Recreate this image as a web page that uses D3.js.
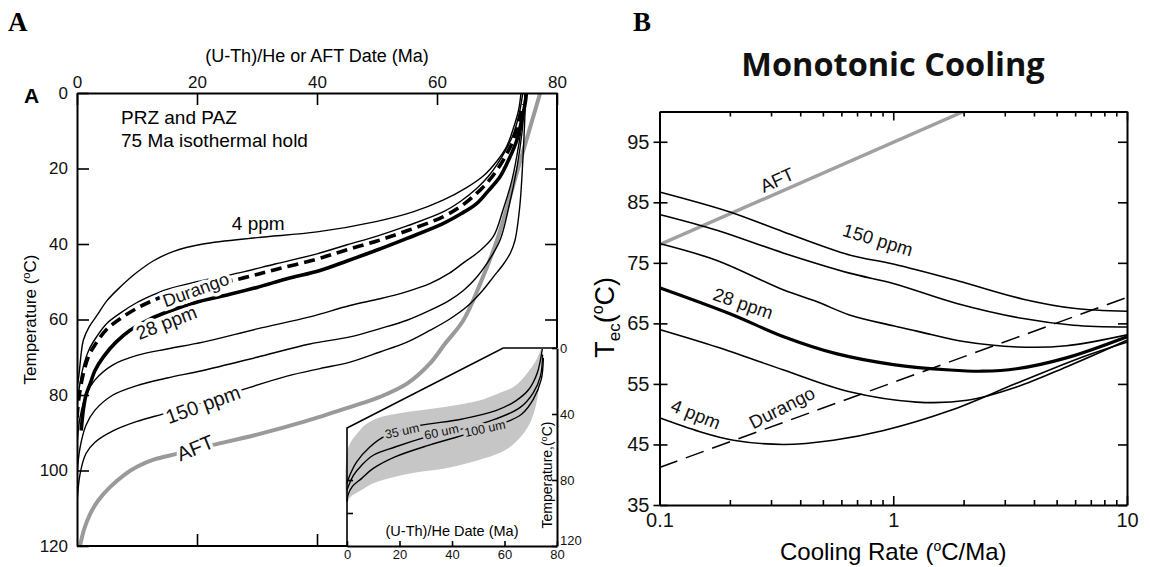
<!DOCTYPE html>
<html>
<head>
<meta charset="utf-8">
<script src="https://cdn.jsdelivr.net/npm/d3@7"></script>
<style>
  body { margin: 0; background: #fff; }
  svg { font-family: "Liberation Sans", Arial, sans-serif; }
</style>
</head>
<body>
<svg id="chart" width="1150" height="567"></svg>
<script>
// ---- Panel A data: [date (Ma), temperature (C)] ----
const ppm4A = [[0,78],[0.3,75],[1.05,65.5],[2,62],[3.3,59],[5,55],[7.2,51.4],[10,47.5],[12.7,44.5],[16,42],[21,40],[30,38.3],[40,36.8],[50,34],[56,31.5],[61,28.4],[65,25],[67.7,22],[70,18],[71.6,14.2],[72.8,9],[73.6,4.5],[74,0]];
const durangoThinA = [[0,84],[0.3,79],[1.05,72.5],[2,68],[3.3,64.5],[5,61],[7.2,58.3],[10,55.5],[12.2,53.8],[15,52],[20,50],[27.2,47.6],[33,45.3],[40,42.6],[45,40.2],[50,37.9],[55,35.2],[61,31.5],[64,28.6],[66.6,25.3],[68.5,22.2],[70,19],[71.5,15],[72.7,11],[73.7,5.5],[74.3,0]];
const durangoA = [[0,86],[0.3,81],[1.05,74.4],[2,69.5],[3.3,66],[5,62.5],[7.2,59.8],[10,57],[12.2,55.3],[15,53.5],[20,51.5],[27.2,49.2],[33,46.8],[40,44],[45,41.5],[50,39.2],[55,36.5],[61,32.8],[64,30],[66.6,26.6],[68.5,23.5],[70,20.4],[71.5,16.5],[72.7,12.5],[73.7,7],[74.4,3]];
const ppm28A = [[0.7,89.4],[1.05,84],[1.5,80],[2.2,77],[3,73.5],[4.4,69.9],[6.5,66],[8.8,62.9],[12,60],[15,58],[20.2,55.3],[25,53.5],[30,51.5],[35,49.2],[40.5,47],[45,44.5],[50,41.6],[55,38.5],[61,34.6],[64,32],[66.6,29.3],[68.5,26],[70.5,22.2],[72,17.5],[73.3,12.5],[74.2,6.5],[74.7,2.7],[74.9,0]];
const midA1 = [[0,93],[0.5,86],[1.5,80],[3,76],[6,72],[10,69.5],[15,67.8],[21,66],[30,62.5],[38.8,59.3],[45.5,56.3],[50.5,54.5],[55,52.6],[58.8,50.5],[62,47.8],[64.4,45],[67,42],[69.4,38],[71,31],[72.5,23],[73.7,13],[74.4,5],[74.7,0]];
const midA2 = [[0,101],[0.5,94],[1.5,88],[3,84],[6,80],[10,77.5],[15,75.5],[21,73.5],[30,70],[38.8,66.5],[45.5,64.6],[50.5,62.4],[55,60.2],[58.8,57.6],[62,55],[64.4,52.3],[66.5,49],[68.3,45.2],[70.5,39],[72,30],[73.3,20],[74.2,10],[74.7,0]];
const ppm150A = [[0,109],[0.5,101],[1.5,95.5],[3,92.5],[6,89.5],[10,87],[14.4,85],[21,82],[27.2,78.8],[35,75],[40.5,73],[45.5,71.3],[50.5,68.6],[55,66],[58.8,62.9],[62,60],[64.9,56.7],[67.5,52.5],[69.4,48.7],[71,45.5],[72.2,42.5],[73,39],[73.8,30],[74.3,18],[74.6,8],[74.8,0]];
const aftA = [[0.5,120],[1.2,115.5],[2.2,111.5],[3.5,108],[5.5,104.4],[8,101],[10,99],[13,97],[16.6,95.6],[20,94.2],[23.3,93],[30,90.5],[38,87],[45.5,83.2],[50.5,80.5],[55,77],[58.8,71.7],[61.3,66.5],[64.4,60.2],[67.2,50.5],[70,39],[73.6,19.5],[77.2,0]];

// ---- Inset data ----
const bandUpper = [[0,63],[1.5,57],[3.8,52],[7,46.5],[12.6,42],[20,39.5],[31.6,37],[40,35],[50,32],[57,28],[64,23],[68,16.5],[71.6,8.7],[73.3,3],[74.2,0]];
const bandLower = [[0,93.5],[1.5,90],[5.6,86],[10,82],[18.3,78],[28,75],[37.3,73],[50,68],[60.2,62],[66.6,53],[70.4,43],[72.7,28.8],[73.7,12.7],[74.2,0]];
const um35 = [[0,82],[1.1,77],[3.7,69],[8.7,60],[15,53],[21,50],[27.7,47],[44,43],[56.7,38],[64.3,32],[69.3,25],[72.5,15],[74.4,0.6]];
const um60 = [[0,86],[1,82],[2.5,77],[5.6,71],[10,65],[18.3,60],[30,54],[36,51.5],[44,49],[56.7,43],[66,36],[71,27],[73.7,17],[74.5,4]];
const um100 = [[0,93],[0.4,89],[2,84],[5.6,79],[10,73],[18.3,66],[31,59],[44,53],[52,49.5],[59,46],[66.6,40],[71,31],[74,19],[74.8,6]];

// ---- Panel B data: [cooling rate (C/Ma), Tec (C)] ----
const aftB = [[0.1,78],[2.0,100]];
const durangoB = [[0.1,41.2],[10,69.3]];
const ppm150B = [[0.1,86.7],[0.2,83.4],[0.34,80.1],[0.65,76.3],[1.0,74.8],[1.9,72],[3.6,69],[5.9,67.5],[10,67.0]];
const curveB2 = [[0.1,83],[0.176,80.4],[0.34,76.6],[0.65,73.3],[1.0,71.6],[1.87,68.3],[3.6,65.8],[5.9,64.7],[10,64.4]];
const curveB3 = [[0.1,78.2],[0.176,75.4],[0.34,70.5],[0.47,68.6],[0.65,66.4],[1.0,64.6],[1.3,63.6],[2,62],[3.4,61.1],[5.5,61.3],[10,63.1]];
const ppm28B = [[0.1,70.9],[0.2,66.6],[0.34,62.8],[0.57,60],[1.0,58.2],[1.75,57.3],[2.4,57.1],[3.37,57.5],[5.5,59.3],[10,62.8]];
const curveB5 = [[0.1,64],[0.176,61.1],[0.34,57.3],[0.65,53.7],[1.26,52],[2.07,52.3],[3.37,54.5],[5.5,57.8],[10,62.2]];
const ppm4B = [[0.1,49.4],[0.149,47.1],[0.207,45.7],[0.34,45],[0.555,45.7],[0.91,47.3],[1.75,50.6],[3.37,55.1],[6.5,59.5],[10,61.9]];

const yTicksA = [0, 20, 40, 60, 80, 100, 120];
const xTicksA = [0, 20, 40, 60, 80];
const insetXTicks = [0, 20, 40, 60, 80];
const insetYTicks = [0, 40, 80, 120];
const yTicksB = [35, 45, 55, 65, 75, 85, 95];
const xMajorB = [0.1, 1, 10];
const xMinorB = [0.2,0.3,0.4,0.5,0.6,0.7,0.8,0.9,2,3,4,5,6,7,8,9];

const svg = d3.select("#chart");

function styleAxis(g, size) {
  g.attr("font-family", null).attr("font-size", size);
  g.selectAll("line").attr("stroke", "#000").attr("stroke-width", 1.6);
  g.selectAll("path").attr("stroke", "#000").attr("stroke-width", 2);
  g.selectAll("text").attr("fill", "#111");
}

// ================= PANEL A =================
const xA = d3.scaleLinear().domain([0, 80]).range([77, 557]);
const yA = d3.scaleLinear().domain([0, 120]).range([93, 546]);
const lineA = d3.line().x(d => xA(d[0])).y(d => yA(d[1])).curve(d3.curveCatmullRom.alpha(0.5));

svg.append("text").attr("x", 8).attr("y", 31).attr("font-family", "Liberation Serif")
  .attr("font-weight", "bold").attr("font-size", 27).text("A");
svg.append("text").attr("x", 24).attr("y", 103).attr("font-weight", "bold").attr("font-size", 21).text("A");
svg.append("text").attr("x", 317).attr("y", 62).attr("text-anchor", "middle").attr("font-size", 18)
  .text("(U-Th)/He or AFT Date (Ma)");

svg.append("clipPath").attr("id", "clipA").append("rect")
  .attr("x", 77).attr("y", 93).attr("width", 480).attr("height", 453);
const gA = svg.append("g").attr("clip-path", "url(#clipA)");

gA.append("path").attr("d", lineA(aftA)).attr("fill", "none").attr("stroke", "#9a9a9a").attr("stroke-width", 4);
[ppm4A, midA1, midA2, ppm150A, durangoThinA].forEach(s => {
  gA.append("path").attr("d", lineA(s)).attr("fill", "none").attr("stroke", "#000").attr("stroke-width", 1.4);
});
gA.append("path").attr("d", lineA(durangoA)).attr("fill", "none").attr("stroke", "#000")
  .attr("stroke-width", 3.6).attr("stroke-dasharray", "11,6");
gA.append("path").attr("d", lineA(ppm28A)).attr("fill", "none").attr("stroke", "#000").attr("stroke-width", 3.6);

// curve labels (white halo breaks the lines like the original)
const labelsA = [
  { t: "Durango", d: 19.8, T: 52.2, r: -20, s: 18 },
  { t: "28 ppm", d: 14.9, T: 60.8, r: -21, s: 19 },
  { t: "150 ppm", d: 21, T: 82.5, r: -20, s: 20 },
  { t: "AFT", d: 19.7, T: 94.0, r: -22, s: 20 }
];
labelsA.forEach(l => {
  svg.append("text")
    .attr("transform", `translate(${xA(l.d)},${yA(l.T)}) rotate(${l.r})`)
    .attr("text-anchor", "middle").attr("dominant-baseline", "central")
    .attr("font-size", l.s).attr("stroke", "#fff").attr("stroke-width", 7)
    .attr("paint-order", "stroke").attr("fill", "#111").text(l.t);
});
svg.append("text").attr("x", xA(30.2)).attr("y", yA(36.3)).attr("text-anchor", "middle")
  .attr("font-size", 19).text("4 ppm");
svg.append("text").attr("x", 121).attr("y", 124).attr("font-size", 19).text("PRZ and PAZ");
svg.append("text").attr("x", 121).attr("y", 147).attr("font-size", 19).text("75 Ma isothermal hold");

// axes A
const axTopA = svg.append("g").attr("transform", `translate(0,${yA(0)})`)
  .call(d3.axisTop(xA).tickValues(xTicksA).tickSizeInner(-12).tickSizeOuter(0).tickPadding(5));
styleAxis(axTopA, 17);
const axLeftA = svg.append("g").attr("transform", `translate(${xA(0)},0)`)
  .call(d3.axisLeft(yA).tickValues(yTicksA).tickSizeInner(-12).tickSizeOuter(0).tickPadding(9));
styleAxis(axLeftA, 17);
const axRightA = svg.append("g").attr("transform", `translate(${xA(80)},0)`)
  .call(d3.axisRight(yA).tickValues([20, 40, 60]).tickSize(-12).tickFormat(""));
axRightA.select(".domain").remove();
styleAxis(axRightA, 17);
const axBotA = svg.append("g").attr("transform", `translate(0,${yA(120)})`)
  .call(d3.axisBottom(xA).tickValues([20, 40]).tickSize(-12).tickFormat(""));
axBotA.select(".domain").remove();
styleAxis(axBotA, 17);

svg.append("path").attr("d", `M${xA(80)},${yA(0)}V348M${xA(0)},${yA(120)}H362`)
  .attr("stroke", "#000").attr("stroke-width", 2).attr("fill", "none");

const yTitleA = svg.append("text").attr("transform", `translate(36,${yA(60)}) rotate(-90)`)
  .attr("text-anchor", "middle").attr("font-size", 17);
yTitleA.append("tspan").text("Temperature (");
yTitleA.append("tspan").attr("font-size", 11).attr("dy", -6).text("o");
yTitleA.append("tspan").attr("dy", 6).text("C)");

// ================= INSET =================
const xI = d3.scaleLinear().domain([0, 80]).range([347, 557]);
const yI = d3.scaleLinear().domain([0, 120]).range([348, 546]);
const lineI = d3.line().x(d => xI(d[0])).y(d => yI(d[1])).curve(d3.curveCatmullRom.alpha(0.5));

const framePts = [[xI(0), yI(120)], [xI(0), yI(48.5)], [xI(59.5), yI(0)], [xI(80), yI(0)]];
svg.append("path").attr("d", d3.line()(framePts.concat([[xI(80), yI(120)]])) + "Z").attr("fill", "#fff");

const bandPoly = bandUpper.concat(bandLower.slice().reverse());
svg.append("path").attr("d", d3.line().x(d => xI(d[0])).y(d => yI(d[1])).curve(d3.curveCatmullRomClosed.alpha(0.5))(bandPoly))
  .attr("fill", "#c6c6c6");
[um35, um60, um100].forEach(s => {
  svg.append("path").attr("d", lineI(s)).attr("fill", "none").attr("stroke", "#000").attr("stroke-width", 1.4);
});
const labelsI = [
  { t: "35 um", d: 21, T: 50.5 },
  { t: "60 um", d: 36, T: 51 },
  { t: "100 um", d: 52.6, T: 49 }
];
labelsI.forEach(l => {
  svg.append("text")
    .attr("transform", `translate(${xI(l.d)},${yI(l.T)}) rotate(-12)`)
    .attr("text-anchor", "middle").attr("dominant-baseline", "central")
    .attr("font-size", 12.5).attr("stroke", "#c6c6c6").attr("stroke-width", 5)
    .attr("paint-order", "stroke").attr("fill", "#111").text(l.t);
});

svg.append("path").attr("d", d3.line()(framePts)).attr("fill", "none").attr("stroke", "#000").attr("stroke-width", 1.6);

const axBotI = svg.append("g").attr("transform", `translate(0,${yI(120)})`)
  .call(d3.axisBottom(xI).tickValues(insetXTicks).tickSizeInner(-5).tickSizeOuter(0).tickPadding(4));
styleAxis(axBotI, 13);
const axRightI = svg.append("g").attr("transform", `translate(${xI(80)},0)`)
  .call(d3.axisRight(yI).tickValues(insetYTicks).tickSizeInner(-5).tickSizeOuter(0).tickPadding(3));
styleAxis(axRightI, 13);
axRightI.selectAll("text").filter(d => d === 120).attr("dy", "-0.1em");
const axLeftI = svg.append("g").attr("transform", `translate(${xI(0)},0)`)
  .call(d3.axisLeft(yI).tickValues([80, 100]).tickSize(-6).tickFormat(""));
axLeftI.select(".domain").remove();
styleAxis(axLeftI, 13);

svg.append("text").attr("x", xI(40)).attr("y", 536).attr("text-anchor", "middle").attr("font-size", 14.5)
  .text("(U-Th)/He Date (Ma)");
const yTitleI = svg.append("text").attr("transform", `translate(552,${yI(77)}) rotate(-90)`)
  .attr("text-anchor", "middle").attr("font-size", 14);
yTitleI.append("tspan").text("Temperature,(");
yTitleI.append("tspan").attr("font-size", 9).attr("dy", -5).text("o");
yTitleI.append("tspan").attr("dy", 5).text("C)");

// ================= PANEL B =================
const xB = d3.scaleLog().domain([0.1, 10]).range([659.5, 1127]);
const yB = d3.scaleLinear().domain([35, 100]).range([505, 111.5]);
const lineB = d3.line().x(d => xB(d[0])).y(d => yB(d[1])).curve(d3.curveCatmullRom.alpha(0.5));

svg.append("text").attr("x", 633).attr("y", 31).attr("font-family", "Liberation Serif")
  .attr("font-weight", "bold").attr("font-size", 27).text("B");
svg.append("text").attr("x", 893).attr("y", 76).attr("text-anchor", "middle")
  .attr("font-family", "Open Sans").attr("font-weight", "bold").attr("font-size", 32.5)
  .attr("fill", "#111").text("Monotonic Cooling");

svg.append("clipPath").attr("id", "clipB").append("rect")
  .attr("x", 659.5).attr("y", 111.5).attr("width", 1127 - 659.5).attr("height", 505 - 111.5);
const gB = svg.append("g").attr("clip-path", "url(#clipB)");

gB.append("path").attr("d", lineB(aftB)).attr("fill", "none").attr("stroke", "#a0a0a0").attr("stroke-width", 3.5);
gB.append("path").attr("d", lineB(durangoB)).attr("fill", "none").attr("stroke", "#000")
  .attr("stroke-width", 1.5).attr("stroke-dasharray", "19,9");
[ppm150B, curveB2, curveB3, curveB5, ppm4B].forEach(s => {
  gB.append("path").attr("d", lineB(s)).attr("fill", "none").attr("stroke", "#000").attr("stroke-width", 1.6);
});
gB.append("path").attr("d", lineB(ppm28B)).attr("fill", "none").attr("stroke", "#000").attr("stroke-width", 3.2);

const labelsB = [
  { t: "AFT", r: 0.318, T: 88.7, a: -24 },
  { t: "150 ppm", r: 0.86, T: 78.8, a: 17 },
  { t: "28 ppm", r: 0.228, T: 68.3, a: 19 },
  { t: "4 ppm", r: 0.143, T: 50.0, a: 22 },
  { t: "Durango", r: 0.334, T: 51.1, a: -27 }
];
labelsB.forEach(l => {
  svg.append("text")
    .attr("transform", `translate(${xB(l.r)},${yB(l.T)}) rotate(${l.a})`)
    .attr("text-anchor", "middle").attr("dominant-baseline", "central")
    .attr("font-size", 18.5).attr("fill", "#111").text(l.t);
});

// axes B
const fmtB = d => d === 0.1 ? "0.1" : String(d);
const axBotB = svg.append("g").attr("transform", `translate(0,${yB(35)})`)
  .call(d3.axisBottom(xB).tickValues(xMajorB).tickFormat(fmtB).tickSizeInner(-9).tickSizeOuter(0).tickPadding(8));
styleAxis(axBotB, 20);
const axBotMinor = svg.append("g").attr("transform", `translate(0,${yB(35)})`)
  .call(d3.axisBottom(xB).tickValues(xMinorB).tickFormat("").tickSize(-5));
axBotMinor.select(".domain").remove();
styleAxis(axBotMinor, 20);
const axTopB = svg.append("g").attr("transform", `translate(0,${yB(100)})`)
  .call(d3.axisTop(xB).tickValues(xMajorB).tickFormat("").tickSizeInner(-9).tickSizeOuter(0));
styleAxis(axTopB, 20);
const axTopMinor = svg.append("g").attr("transform", `translate(0,${yB(100)})`)
  .call(d3.axisTop(xB).tickValues(xMinorB).tickFormat("").tickSize(-5));
axTopMinor.select(".domain").remove();
styleAxis(axTopMinor, 20);
const axLeftB = svg.append("g").attr("transform", `translate(${xB(0.1)},0)`)
  .call(d3.axisLeft(yB).tickValues(yTicksB).tickSizeInner(6).tickSizeOuter(0).tickPadding(4));
styleAxis(axLeftB, 20);
const axLeftIn = svg.append("g").attr("transform", `translate(${xB(0.1)},0)`)
  .call(d3.axisLeft(yB).tickValues(yTicksB).tickFormat("").tickSize(-8));
axLeftIn.select(".domain").remove();
styleAxis(axLeftIn, 20);
const axRightB = svg.append("g").attr("transform", `translate(${xB(10)},0)`)
  .call(d3.axisRight(yB).tickValues(yTicksB).tickFormat("").tickSizeInner(-9).tickSizeOuter(0));
styleAxis(axRightB, 20);

const xTitleB = svg.append("text").attr("x", xB(1)).attr("y", 560).attr("text-anchor", "middle").attr("font-size", 24);
xTitleB.append("tspan").text("Cooling Rate (");
xTitleB.append("tspan").attr("font-size", 14).attr("dy", -9).text("o");
xTitleB.append("tspan").attr("dy", 9).text("C/Ma)");

const yTitleB = svg.append("text").attr("transform", `translate(614,${yB(66)}) rotate(-90)`)
  .attr("text-anchor", "middle").attr("font-size", 27);
yTitleB.append("tspan").text("T");
yTitleB.append("tspan").attr("font-size", 17).attr("dy", 6).text("ec");
yTitleB.append("tspan").attr("dy", -6).text("(");
yTitleB.append("tspan").attr("font-size", 16).attr("dy", -11).text("o");
yTitleB.append("tspan").attr("dy", 11).text("C)");
</script>
</body>
</html>
